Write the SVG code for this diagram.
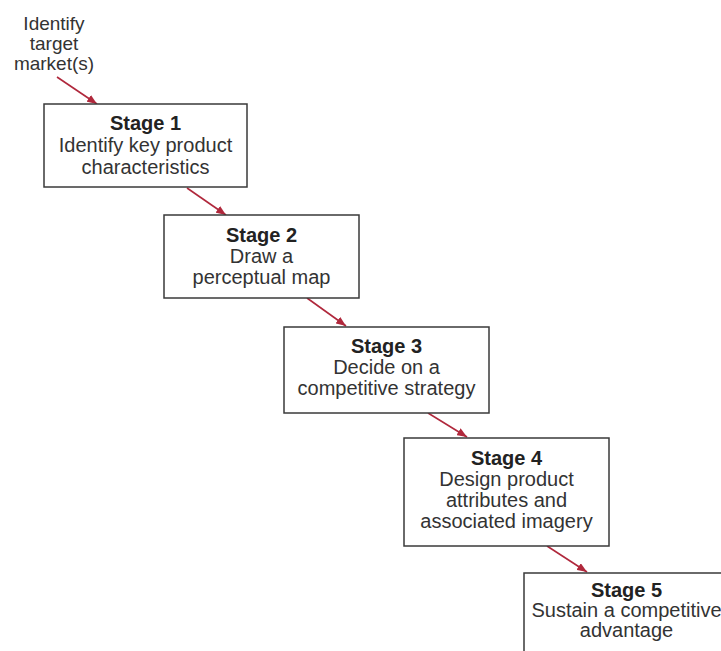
<svg xmlns="http://www.w3.org/2000/svg" width="721" height="651" viewBox="0 0 721 651">
<style>
.box{fill:#fff;stroke:#3a3a3a;stroke-width:1.5}
.t{font-family:"Liberation Sans",Arial,sans-serif;font-size:20px;fill:#333;text-anchor:middle}
.s{font-size:19px}
.b{font-weight:bold;fill:#222}
.c{stroke:#b0283c;stroke-width:1.6;fill:none;marker-end:url(#ah)}
</style>
<defs>
<marker id="ah" viewBox="0 0 10 8" refX="10" refY="4" markerWidth="10" markerHeight="8" markerUnits="userSpaceOnUse" orient="auto">
<path d="M0,0 L10,4 L0,8 Z" fill="#b0283c"/>
</marker>
</defs>
<rect width="721" height="651" fill="#fff"/>
<g id="connectors">
<line class="c" x1="57" y1="77" x2="97" y2="104"/>
<line class="c" x1="187" y1="188" x2="226" y2="215"/>
<line class="c" x1="307" y1="298" x2="346" y2="326"/>
<line class="c" x1="428" y1="413" x2="467" y2="437"/>
<line class="c" x1="547" y1="546" x2="587" y2="572"/>
</g>
<g id="start">
<text class="t s" x="54" y="30">Identify</text>
<text class="t s" x="54" y="50">target</text>
<text class="t s" x="54" y="70">market(s)</text>
</g>
<g id="stage1">
<rect class="box" x="44" y="104" width="203" height="83"/>
<text class="t b" x="145.5" y="130">Stage 1</text>
<text class="t" x="145.5" y="152">Identify key product</text>
<text class="t" x="145.5" y="174">characteristics</text>
</g>
<g id="stage2">
<rect class="box" x="164" y="215" width="195" height="83"/>
<text class="t b" x="261.5" y="242">Stage 2</text>
<text class="t" x="261.5" y="263">Draw a</text>
<text class="t" x="261.5" y="284">perceptual map</text>
</g>
<g id="stage3">
<rect class="box" x="284" y="327" width="205" height="86"/>
<text class="t b" x="386.5" y="353">Stage 3</text>
<text class="t" x="386.5" y="374">Decide on a</text>
<text class="t" x="386.5" y="395">competitive strategy</text>
</g>
<g id="stage4">
<rect class="box" x="404" y="438" width="205" height="108"/>
<text class="t b" x="506.5" y="465">Stage 4</text>
<text class="t" x="506.5" y="486">Design product</text>
<text class="t" x="506.5" y="507">attributes and</text>
<text class="t" x="506.5" y="528">associated imagery</text>
</g>
<g id="stage5">
<rect class="box" x="524" y="573" width="205" height="100"/>
<text class="t b" x="626.5" y="597">Stage 5</text>
<text class="t" x="626.5" y="617">Sustain a competitive</text>
<text class="t" x="626.5" y="637">advantage</text>
</g>
</svg>
